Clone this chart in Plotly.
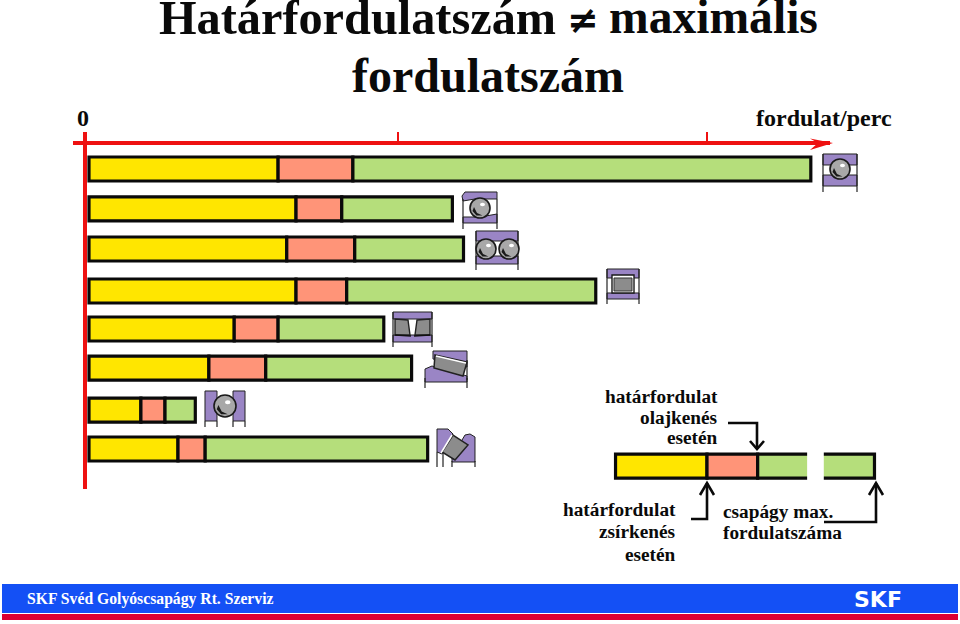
import plotly.graph_objects as go

# ---------- data (fordulat/perc) ----------
bearings = ["mélyhornyú golyós", "ferde hatásvonalú golyós", "kétsoros ferde golyós", "hengergörgős",
            "kétsoros beálló görgős", "kúpgörgős", "axiális golyós", "axiális beálló görgős"]
row_pos = [0, 0.995, 2, 3.05, 4, 4.98, 6.03, 7]
grease_limit = [3060, 3350, 3200, 3350, 2350, 1940, 840, 1440]
oil_limit = [4270, 4090, 4300, 4170, 3060, 2860, 1230, 1880]
max_speed = [11680, 5880, 6060, 8200, 4770, 5220, 1720, 5480]

key_pos = [7.43]
key_start = [8520]
key_grease = [10000]
key_oil = [10820]
key_max = [12710]
key_gap = [11620, 11890]

axis_ticks = [5000, 10000]

YELLOW, SALMON, GREEN = "#FFE600", "#FF9478", "#B5DE7B"
PURPLE, GREY, RED = "#9A85C5", "#8C8C8C", "#EE1111"
W, H = 960, 624
X0 = 89                 # pixel of zero speed
RPM_PER_PX = 5000 / 309
ROW0, ROW_STEP = 169, 40


def seg(name, pos, start, end, color):
    return go.Bar(name=name, orientation="h", y=pos, base=start,
                  x=[e - s for s, e in zip(start, end)], width=0.6,
                  marker=dict(color=color, line=dict(color="#0A0A0A", width=3.2)),
                  showlegend=False)


fig = go.Figure()
zeros = [0] * len(bearings)
fig.add_trace(seg("zsírkenés", row_pos, zeros, grease_limit, YELLOW))
fig.add_trace(seg("olajkenés", row_pos, grease_limit, oil_limit, SALMON))
fig.add_trace(seg("max.", row_pos, oil_limit, max_speed, GREEN))
fig.add_trace(seg("zsírkenés", key_pos, key_start, key_grease, YELLOW))
fig.add_trace(seg("olajkenés", key_pos, key_grease, key_oil, SALMON))
fig.add_trace(seg("max.", key_pos, key_oil, key_max, GREEN))
fig.add_trace(go.Bar(orientation="h", y=key_pos, base=[key_gap[0]], x=[key_gap[1] - key_gap[0]],
                     width=0.72, marker=dict(color="white", line=dict(color="white", width=0)),
                     showlegend=False, hoverinfo="skip"))

shapes, annos = [], []


def fx(x):
    return x / W


def fy(y):
    return 1 - y / H


def path(points, fill=None, line="#222222", lw=1.0, close=True):
    d = "M" + " L".join(f"{fx(x):.5f},{fy(y):.5f}" for x, y in points) + (" Z" if close else "")
    shapes.append(dict(type="path", xref="paper", yref="paper", path=d,
                       fillcolor=fill if fill else "rgba(0,0,0,0)",
                       line=dict(color=line if line else "rgba(0,0,0,0)", width=lw if line else 0)))


def rect(x0, y0, x1, y1, fill, line=None, lw=0):
    path([(x0, y0), (x1, y0), (x1, y1), (x0, y1)], fill, line, lw)


def ellipse(cx, cy, rx, ry, fill, line=None, lw=0):
    shapes.append(dict(type="circle", xref="paper", yref="paper", x0=fx(cx - rx), x1=fx(cx + rx),
                       y0=fy(cy + ry), y1=fy(cy - ry), fillcolor=fill,
                       line=dict(color=line if line else "rgba(0,0,0,0)", width=lw)))


def ball(cx, cy, r):
    ellipse(cx, cy, r, r, "#A8A8A8", "#1A1A1A", 1.6)
    path([(cx - r * .6, cy - r * .1), (cx - r * .3, cy + r * .5), (cx + r * .25, cy + r * .75),
          (cx - r * .35, cy + r * .75), (cx - r * .75, cy + r * .3)], "#1A1A1A", None)
    ellipse(cx + r * .25, cy - r * .35, r * .25, r * .18, "white")


def legs(x0, x1, y0, y1):
    path([(x0, y0), (x0, y1)], None, "#222222", 1.2, close=False)
    path([(x1, y0), (x1, y1)], None, "#222222", 1.2, close=False)


# ---- bearing icons -----
# row 1: deep groove ball
rect(823, 154, 857, 165, PURPLE, "#222222", 1)
rect(823, 175, 857, 186, PURPLE, "#222222", 1)
legs(823, 857, 154, 192)
ball(840, 169, 10)
# row 2: angular contact ball
path([(462, 196), (465, 192), (497, 192), (497, 199), (475, 199), (463, 201)], PURPLE, "#222222", 1)
path([(463, 217), (480, 217), (497, 214), (497, 223), (463, 223)], PURPLE, "#222222", 1)
legs(463, 497, 199, 229)
ball(480, 208, 10)
# row 3: double row ball
rect(476, 231, 518, 241, PURPLE, "#222222", 1)
rect(476, 256, 518, 264, PURPLE, "#222222", 1)
legs(476, 518, 231, 270)
ball(486, 249, 10)
ball(509, 249, 10)
# row 4: cylindrical roller
rect(607, 269, 639, 278, PURPLE, "#222222", 1)
rect(607, 293, 639, 299, PURPLE, "#222222", 1)
rect(612, 275, 634, 293, "white", "#1A1A1A", 1.4)
rect(614, 278, 632, 291, GREY, "#333333", 1)
legs(607, 639, 269, 304)
# row 5: spherical roller
rect(393, 312, 432, 319, PURPLE, "#222222", 1)
rect(393, 335, 432, 342, PURPLE, "#222222", 1)
legs(393, 432, 312, 347)
path([(395, 319), (408, 320), (410, 335), (395, 335)], GREY, "#222222", 1.4)
path([(415, 335), (417, 320), (430, 319), (430, 335)], GREY, "#222222", 1.4)
path([(395, 335), (411, 336)], None, "#111111", 1.6, close=False)
path([(414, 336), (430, 335)], None, "#111111", 1.6, close=False)
# row 6: taper roller
path([(433, 351), (467, 351), (467, 367), (433, 359)], PURPLE, "#222222", 1)
path([(425, 369), (432, 366), (467, 376), (467, 382), (425, 382)], PURPLE, "#222222", 1)
path([(435, 355), (467, 362), (463, 376), (434, 368)], GREY, "#222222", 1.5)
path([(436, 356), (466, 363)], None, "white", 1.5, close=False)
legs(425, 467, 378, 388)
path([(467, 360), (467, 380)], None, "#222222", 1.2, close=False)
# row 7: thrust ball
rect(205, 391, 217, 421, PURPLE, "#222222", 1)
rect(233, 391, 245, 421, PURPLE, "#222222", 1)
legs(205, 217, 421, 427)
legs(233, 245, 421, 427)
ball(225, 406, 11)
# row 8: spherical thrust roller
path([(437, 429), (448, 429), (453, 434), (442, 454), (437, 452)], PURPLE, "#222222", 1)
path([(465, 435), (470, 434), (475, 437), (475, 462), (452, 462), (452, 457)], PURPLE, "#222222", 1)
path([(453, 435), (468, 445), (455, 460), (442, 452)], GREY, "#222222", 1.5)
path([(452, 435), (441, 453)], None, "white", 1.6, close=False)
legs(437, 443, 452, 467)
legs(452, 475, 461, 467)

# ---- red axis -----
hy = 143
path([(73, hy), (830, hy)], None, RED, 4, close=False)
path([(810, 138.5), (833, hy), (810, 150), (818, hy)], RED, None)
path([(85, 132), (85, 489)], None, RED, 4, close=False)
for t in axis_ticks:
    shapes.append(dict(type="line", xref="x", yref="paper", x0=t, x1=t, y0=fy(143), y1=fy(132),
                       line=dict(color=RED, width=2)))


# ---- arrows ----
def arrow(pts, head):
    path(pts, None, "#0A0A0A", 2.6, close=False)
    tip = pts[-1]
    path([(tip[0] - 7, head), tip, (tip[0] + 7, head)], None, "#0A0A0A", 2.6, close=False)


arrow([(728, 423), (757, 423), (757, 449)], 441)
arrow([(691, 519), (707, 519), (707, 483)], 495)
arrow([(824, 522), (876, 522), (876, 483)], 495)

# ---- footer ----
rect(2, 584, 958, 613, "#1450F5")
rect(2, 614, 958, 620, "#DC0032")


# ---- texts ----
def text(s, x, y, size, anchor="center", color="#0A0A0A", family="Liberation Serif", bold=True):
    annos.append(dict(text=f"<b>{s}</b>" if bold else s, xref="paper", yref="paper", x=fx(x), y=fy(y),
                      xanchor=anchor, yanchor="middle", showarrow=False, borderpad=0, borderwidth=0,
                      font=dict(family=family, size=size, color=color)))


text("Határfordulatszám", 159, 17, 48.3, "left")
text("\u2260", 583, 20, 38, "center", "#0A0A0A", "DejaVu Sans")
text("maximális", 609, 17, 47.6, "left")
text("fordulatszám", 488, 75, 48)
text("0", 83, 118, 24)
text("fordulat/perc", 892, 118, 24, "right")
for s, y in zip(["határfordulat", "olajkenés", "esetén"], [396, 417, 438]):
    text(s, 718, y, 19.3, "right")
for s, y in zip(["határfordulat", "zsírkenés", "esetén"], [509, 531, 554]):
    text(s, 676, y, 19.3, "right")
text("csapágy max.", 723, 511, 19.3, "left")
text("fordulatszáma", 723, 532, 19.3, "left")
text("SKF Svéd Golyóscsapágy Rt. Szerviz", 27, 599, 15.7, "left", "white")
text("SKF", 878, 599, 22, "center", "white", "DejaVu Sans")

fig.update_layout(
    width=W, height=H, margin=dict(l=0, r=0, t=0, b=0, pad=0), autosize=False,
    paper_bgcolor="white", plot_bgcolor="white", barmode="overlay", showlegend=False,
    shapes=shapes, annotations=annos,
    xaxis=dict(range=[-X0 * RPM_PER_PX, (W - X0) * RPM_PER_PX], visible=False, domain=[0, 1], fixedrange=True),
    yaxis=dict(range=[(H - ROW0) / ROW_STEP, -ROW0 / ROW_STEP], visible=False, domain=[0, 1], fixedrange=True),
)
fig.write_html("out.html", config=dict(displayModeBar=False),
               post_script="document.body.style.margin='0';document.documentElement.style.overflow='hidden';")
